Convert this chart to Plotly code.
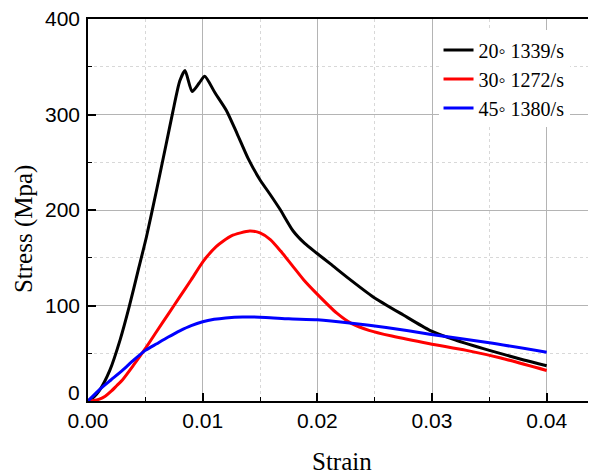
import plotly.graph_objects as go

# ---- data ----
black_x = [0, 0.0005, 0.001, 0.0019, 0.0028, 0.0036, 0.0044, 0.0051, 0.006, 0.0068, 0.0074,
           0.008, 0.00846, 0.00908, 0.0097, 0.01018, 0.01106, 0.01208, 0.013, 0.01396, 0.01498,
           0.0159, 0.01673, 0.01789, 0.0189, 0.01993, 0.0212, 0.02255, 0.02487, 0.0275, 0.0298,
           0.032, 0.035, 0.038, 0.04]
black_y = [0, 4, 11, 32, 64, 99, 138, 172, 222, 268, 303,
           335, 346, 324, 333, 340, 323, 304, 280, 254, 232,
           216, 201, 178, 165, 155, 143, 130, 109, 90, 74,
           64, 53, 43, 37]

red_x = [0, 0.0005, 0.001, 0.0015, 0.002, 0.0025, 0.003, 0.004, 0.00495, 0.006, 0.007, 0.008,
         0.009, 0.01003, 0.0112, 0.0125, 0.0141, 0.015, 0.0159, 0.0168, 0.0178, 0.0188, 0.0199,
         0.0217, 0.023, 0.0245, 0.0265, 0.0298, 0.033, 0.036, 0.04]
red_y = [0, 0.5, 2, 5, 10, 16, 22, 38, 54, 73, 91, 109,
         127, 146, 162, 173, 178, 176, 169, 157, 142, 127, 113,
         92, 81, 74, 68, 60, 53, 45, 32]

blue_x = [0, 0.001, 0.002, 0.003, 0.004, 0.005, 0.006, 0.007, 0.008, 0.009, 0.01, 0.011,
          0.012, 0.0135, 0.0155, 0.0175, 0.02, 0.023, 0.026, 0.0298, 0.035, 0.04]
blue_y = [0, 12, 22, 32, 43, 53, 60, 67, 73.5, 79, 83, 85.5,
          87, 88, 87.5, 86, 85, 81.5, 77, 70, 61, 51]

series_names = ["20\u25e6 1339/s", "30\u25e6 1272/s", "45\u25e6 1380/s"]
series_colors = ["#000000", "#ff0000", "#0000ff"]

x_ticks = [0.00, 0.01, 0.02, 0.03, 0.04]
x_tick_labels = ["0.00", "0.01", "0.02", "0.03", "0.04"]
y_ticks = [0, 100, 200, 300, 400]
y_tick_labels = ["", "100", "200", "300", "400"]
y_zero_label = "0"

x_title = "Strain"
y_title = "Stress (Mpa)"

fig = go.Figure()
for xs, ys, name, col in zip([black_x, red_x, blue_x], [black_y, red_y, blue_y],
                             series_names, series_colors):
    fig.add_trace(go.Scatter(x=xs, y=ys, mode="lines", name=name,
                             line=dict(color=col, width=3, shape="spline", smoothing=0.6)))

tick_font = dict(family="Liberation Sans, Arial", size=21, color="black")
title_font = dict(family="Liberation Serif, Times New Roman", size=25, color="black")

fig.update_layout(
    width=588, height=464,
    margin=dict(l=80, r=0, t=11, b=71),
    paper_bgcolor="white", plot_bgcolor="white",
    showlegend=True,
    legend=dict(x=0.69, y=0.97, xanchor="left", yanchor="top",
                bgcolor="white", borderwidth=0,
                font=dict(family="Liberation Serif, Times New Roman", size=20, color="black"),
                tracegroupgap=0),
    xaxis=dict(range=[0, 0.0443], tickvals=x_ticks, ticktext=x_tick_labels,
               ticks="inside", ticklen=8, tickwidth=1.5, tickcolor="black",
               showline=True, linecolor="black", linewidth=1.5, mirror=True,
               showgrid=True, gridcolor="#b4b4b4", gridwidth=1,
               zeroline=False, tickfont=tick_font, ticklabelstandoff=0,
               automargin=False, ticklabeloverflow="allow",
               minor=dict(dtick=0.005, tick0=0, ticks="inside", ticklen=4, tickwidth=1,
                          tickcolor="black", showgrid=True, gridcolor="#d8d8d8",
                          griddash="dot", gridwidth=1)),
    yaxis=dict(range=[0, 400], tickvals=y_ticks, ticktext=y_tick_labels,
               ticks="inside", ticklen=8, tickwidth=1.5, tickcolor="black",
               showline=True, linecolor="black", linewidth=1.5, mirror=False,
               showgrid=True, gridcolor="#b4b4b4", gridwidth=1,
               zeroline=False, tickfont=tick_font, ticklabelstandoff=2,
               automargin=False, ticklabeloverflow="allow",
               minor=dict(dtick=50, tick0=0, ticks="inside", ticklen=4, tickwidth=1,
                          tickcolor="black", showgrid=True, gridcolor="#d8d8d8",
                          griddash="dot", gridwidth=1)),
    annotations=[
        dict(text=x_title, xref="paper", yref="paper", x=0.5, y=0,
             xanchor="center", yanchor="middle", yshift=-60, showarrow=False,
             font=title_font),
        dict(text=y_title, xref="paper", yref="paper", x=0, y=0.45,
             xanchor="center", yanchor="middle", xshift=-64, textangle=-90,
             showarrow=False, font=title_font),
        dict(text=y_zero_label, xref="paper", yref="y", x=0, y=0,
             xanchor="right", yanchor="middle", xshift=-6, yshift=9,
             showarrow=False, font=tick_font),
    ],
)

fig.write_html("out.html")
